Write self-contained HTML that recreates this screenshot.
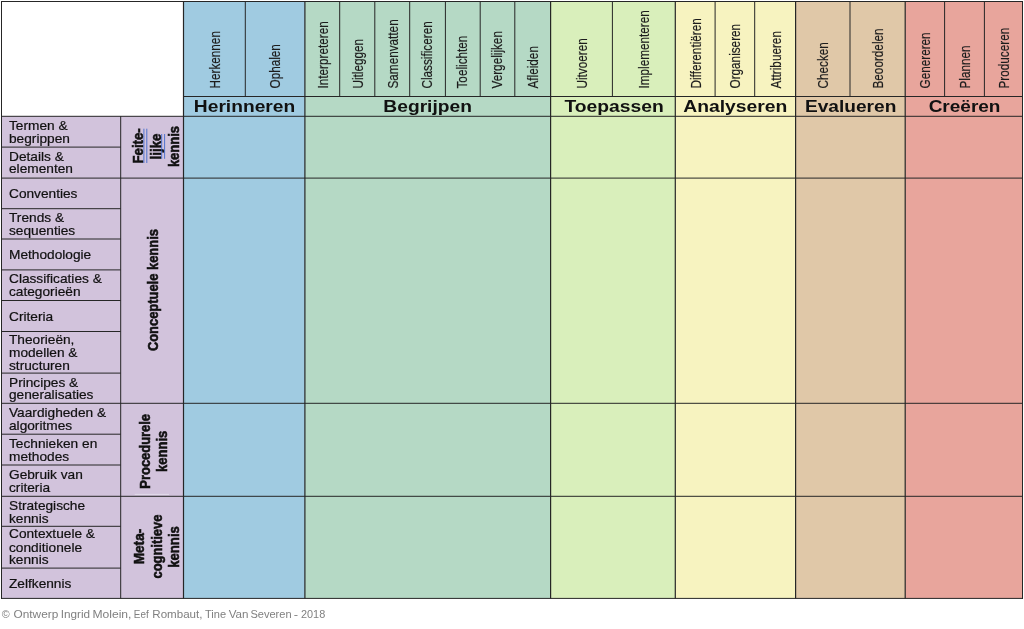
<!DOCTYPE html>
<html lang="nl"><head><meta charset="utf-8"><title>Taxonomie van Bloom - kennisdimensies</title>
<style>html,body{margin:0;padding:0;background:#fff}body{width:1024px;height:629px;overflow:hidden}svg{display:block}text{font-family:"Liberation Sans",Arial,sans-serif;fill:#111}.b{font-weight:bold}.g{font-weight:bold;stroke:#111;stroke-width:.55px}.r{stroke:#111;stroke-width:.2px}.s{fill:#1c1c1c;stroke:#1c1c1c;stroke-width:.2px}.f{fill:#808080}</style></head><body>
<svg width="1024" height="629" viewBox="0 0 1024 629">
<rect width="1024" height="629" fill="#fff"/>
<rect x="1.5" y="116.2" width="182.1" height="482.2" fill="#d2c3dc"/>
<rect x="183.5" y="1.5" width="121.4" height="596.9" fill="#a0cbe1"/>
<rect x="304.9" y="1.5" width="245.8" height="596.9" fill="#b5d9c5"/>
<rect x="550.6" y="1.5" width="124.6" height="596.9" fill="#d9efbb"/>
<rect x="675.3" y="1.5" width="120.3" height="596.9" fill="#f7f3c0"/>
<rect x="795.6" y="1.5" width="109.6" height="596.9" fill="#e0c8a8"/>
<rect x="905.2" y="1.5" width="117.3" height="596.9" fill="#e8a59c"/>
<line x1="1.0" y1="1.5" x2="1023.0" y2="1.5" stroke="#262626" stroke-width="1.0"/>
<line x1="1.0" y1="598.4" x2="1023.0" y2="598.4" stroke="#262626" stroke-width="1.0"/>
<line x1="1.5" y1="1.0" x2="1.5" y2="598.9" stroke="#262626" stroke-width="1.0"/>
<line x1="1022.5" y1="1.0" x2="1022.5" y2="598.9" stroke="#262626" stroke-width="1.0"/>
<line x1="183.6" y1="96.5" x2="1022.5" y2="96.5" stroke="#262626" stroke-width="1.0"/>
<line x1="1.5" y1="116.3" x2="1022.5" y2="116.3" stroke="#262626" stroke-width="1.0"/>
<line x1="1.5" y1="178.1" x2="1022.5" y2="178.1" stroke="#262626" stroke-width="1.0"/>
<line x1="1.5" y1="403.3" x2="1022.5" y2="403.3" stroke="#262626" stroke-width="1.0"/>
<line x1="1.5" y1="496.3" x2="1022.5" y2="496.3" stroke="#262626" stroke-width="1.0"/>
<line x1="1.5" y1="147.1" x2="120.7" y2="147.1" stroke="#262626" stroke-width="1.0"/>
<line x1="1.5" y1="208.7" x2="120.7" y2="208.7" stroke="#262626" stroke-width="1.0"/>
<line x1="1.5" y1="239.0" x2="120.7" y2="239.0" stroke="#262626" stroke-width="1.0"/>
<line x1="1.5" y1="269.9" x2="120.7" y2="269.9" stroke="#262626" stroke-width="1.0"/>
<line x1="1.5" y1="300.5" x2="120.7" y2="300.5" stroke="#262626" stroke-width="1.0"/>
<line x1="1.5" y1="331.5" x2="120.7" y2="331.5" stroke="#262626" stroke-width="1.0"/>
<line x1="1.5" y1="373.1" x2="120.7" y2="373.1" stroke="#262626" stroke-width="1.0"/>
<line x1="1.5" y1="434.2" x2="120.7" y2="434.2" stroke="#262626" stroke-width="1.0"/>
<line x1="1.5" y1="465.0" x2="120.7" y2="465.0" stroke="#262626" stroke-width="1.0"/>
<line x1="1.5" y1="526.3" x2="120.7" y2="526.3" stroke="#262626" stroke-width="1.0"/>
<line x1="1.5" y1="568.1" x2="120.7" y2="568.1" stroke="#262626" stroke-width="1.0"/>
<line x1="120.7" y1="116.2" x2="120.7" y2="598.4" stroke="#262626" stroke-width="1.0"/>
<line x1="183.5" y1="1.5" x2="183.5" y2="598.4" stroke="#262626" stroke-width="1.2"/>
<line x1="304.9" y1="1.5" x2="304.9" y2="598.4" stroke="#262626" stroke-width="1.2"/>
<line x1="550.6" y1="1.5" x2="550.6" y2="598.4" stroke="#262626" stroke-width="1.2"/>
<line x1="675.3" y1="1.5" x2="675.3" y2="598.4" stroke="#262626" stroke-width="1.2"/>
<line x1="795.6" y1="1.5" x2="795.6" y2="598.4" stroke="#262626" stroke-width="1.2"/>
<line x1="905.2" y1="1.5" x2="905.2" y2="598.4" stroke="#262626" stroke-width="1.2"/>
<line x1="245.3" y1="1.5" x2="245.3" y2="96.5" stroke="#262626" stroke-width="1.0"/>
<line x1="339.7" y1="1.5" x2="339.7" y2="96.5" stroke="#262626" stroke-width="1.0"/>
<line x1="374.8" y1="1.5" x2="374.8" y2="96.5" stroke="#262626" stroke-width="1.0"/>
<line x1="409.7" y1="1.5" x2="409.7" y2="96.5" stroke="#262626" stroke-width="1.0"/>
<line x1="445.4" y1="1.5" x2="445.4" y2="96.5" stroke="#262626" stroke-width="1.0"/>
<line x1="480.2" y1="1.5" x2="480.2" y2="96.5" stroke="#262626" stroke-width="1.0"/>
<line x1="514.8" y1="1.5" x2="514.8" y2="96.5" stroke="#262626" stroke-width="1.0"/>
<line x1="612.4" y1="1.5" x2="612.4" y2="96.5" stroke="#262626" stroke-width="1.0"/>
<line x1="715.1" y1="1.5" x2="715.1" y2="96.5" stroke="#262626" stroke-width="1.0"/>
<line x1="754.7" y1="1.5" x2="754.7" y2="96.5" stroke="#262626" stroke-width="1.0"/>
<line x1="850.0" y1="1.5" x2="850.0" y2="96.5" stroke="#262626" stroke-width="1.0"/>
<line x1="944.6" y1="1.5" x2="944.6" y2="96.5" stroke="#262626" stroke-width="1.0"/>
<line x1="984.4" y1="1.5" x2="984.4" y2="96.5" stroke="#262626" stroke-width="1.0"/>
<line x1="134.7" y1="494.4" x2="169.0" y2="494.4" stroke="#e4dcea" stroke-width="1"/>
<text class="b" font-size="16.42" transform="translate(193.85 111.70) scale(1.1705 1)">Herinneren</text>
<text class="b" font-size="16.42" transform="translate(383.35 111.70) scale(1.1715 1)">Begrijpen</text>
<text class="b" font-size="16.42" transform="translate(564.41 111.70) scale(1.1746 1)">Toepassen</text>
<text class="b" font-size="16.42" transform="translate(683.22 111.70) scale(1.1775 1)">Analyseren</text>
<text class="b" font-size="16.42" transform="translate(804.96 111.70) scale(1.1654 1)">Evalueren</text>
<text class="b" font-size="16.42" transform="translate(928.64 111.70) scale(1.1581 1)">Creëren</text>
<text class="s" font-size="14.39" transform="translate(219.70 88.5) rotate(-90) scale(0.8165 1)">Herkennen</text>
<text class="s" font-size="14.39" transform="translate(280.00 88.5) rotate(-90) scale(0.8165 1)">Ophalen</text>
<text class="s" font-size="14.39" transform="translate(327.70 88.5) rotate(-90) scale(0.8165 1)">Interpreteren</text>
<text class="s" font-size="14.39" transform="translate(362.90 88.5) rotate(-90) scale(0.8165 1)">Uitleggen</text>
<text class="s" font-size="14.39" transform="translate(397.50 88.5) rotate(-90) scale(0.8165 1)">Samenvatten</text>
<text class="s" font-size="14.39" transform="translate(432.40 88.5) rotate(-90) scale(0.8165 1)">Classificeren</text>
<text class="s" font-size="14.39" transform="translate(467.20 88.5) rotate(-90) scale(0.8165 1)">Toelichten</text>
<text class="s" font-size="14.39" transform="translate(502.20 88.5) rotate(-90) scale(0.8165 1)">Vergelijken</text>
<text class="s" font-size="14.39" transform="translate(537.70 88.5) rotate(-90) scale(0.8165 1)">Afleiden</text>
<text class="s" font-size="14.39" transform="translate(586.70 88.5) rotate(-90) scale(0.8165 1)">Uitvoeren</text>
<text class="s" font-size="14.39" transform="translate(649.30 88.5) rotate(-90) scale(0.8165 1)">Implementeren</text>
<text class="s" font-size="14.39" transform="translate(700.60 88.5) rotate(-90) scale(0.8165 1)">Differentiëren</text>
<text class="s" font-size="14.39" transform="translate(739.90 88.5) rotate(-90) scale(0.8165 1)">Organiseren</text>
<text class="s" font-size="14.39" transform="translate(780.90 88.5) rotate(-90) scale(0.8165 1)">Attribueren</text>
<text class="s" font-size="14.39" transform="translate(827.90 88.5) rotate(-90) scale(0.8165 1)">Checken</text>
<text class="s" font-size="14.39" transform="translate(883.00 88.5) rotate(-90) scale(0.8165 1)">Beoordelen</text>
<text class="s" font-size="14.39" transform="translate(930.20 88.5) rotate(-90) scale(0.8165 1)">Genereren</text>
<text class="s" font-size="14.39" transform="translate(969.70 88.5) rotate(-90) scale(0.8165 1)">Plannen</text>
<text class="s" font-size="14.39" transform="translate(1008.80 88.5) rotate(-90) scale(0.8165 1)">Produceren</text>
<text class="g" font-size="13.95" transform="translate(143.00 163.46) rotate(-90) scale(0.9472 1)">Feite-</text>
<text class="g" font-size="13.95" transform="translate(161.20 159.43) rotate(-90) scale(0.9517 1)">lijke</text>
<text class="g" font-size="13.95" transform="translate(179.00 167.11) rotate(-90) scale(0.9313 1)">kennis</text>
<line x1="143.9" y1="128.7" x2="143.9" y2="163.0" stroke="#2f5fcc" stroke-width="0.8"/>
<line x1="146.8" y1="128.7" x2="146.8" y2="163.0" stroke="#2f5fcc" stroke-width="0.8"/>
<line x1="161.7" y1="134.0" x2="161.7" y2="158.8" stroke="#2f5fcc" stroke-width="0.8"/>
<line x1="164.6" y1="134.0" x2="164.6" y2="158.8" stroke="#2f5fcc" stroke-width="0.8"/>
<text class="g" font-size="13.95" transform="translate(158.00 351.12) rotate(-90) scale(0.9267 1)">Conceptuele kennis</text>
<text class="g" font-size="13.95" transform="translate(150.10 488.64) rotate(-90) scale(0.9266 1)">Procedurele</text>
<text class="g" font-size="13.95" transform="translate(167.00 471.91) rotate(-90) scale(0.9313 1)">kennis</text>
<text class="g" font-size="13.95" transform="translate(143.90 564.29) rotate(-90) scale(0.9765 1)">Meta-</text>
<text class="g" font-size="13.95" transform="translate(161.70 578.52) rotate(-90) scale(0.9262 1)">cognitieve</text>
<text class="g" font-size="13.95" transform="translate(179.30 567.72) rotate(-90) scale(0.9407 1)">kennis</text>
<text class="r" font-size="12.06" transform="translate(9 129.70) scale(1.136 1)">Termen &amp;</text>
<text class="r" font-size="12.06" transform="translate(9 142.70) scale(1.136 1)">begrippen</text>
<text class="r" font-size="12.06" transform="translate(9 160.60) scale(1.136 1)">Details &amp;</text>
<text class="r" font-size="12.06" transform="translate(9 172.90) scale(1.136 1)">elementen</text>
<text class="r" font-size="12.06" transform="translate(9 197.80) scale(1.136 1)">Conventies</text>
<text class="r" font-size="12.06" transform="translate(9 222.40) scale(1.136 1)">Trends &amp;</text>
<text class="r" font-size="12.06" transform="translate(9 235.30) scale(1.136 1)">sequenties</text>
<text class="r" font-size="12.06" transform="translate(9 258.80) scale(1.136 1)">Methodologie</text>
<text class="r" font-size="12.06" transform="translate(9 283.40) scale(1.136 1)">Classificaties &amp;</text>
<text class="r" font-size="12.06" transform="translate(9 296.30) scale(1.136 1)">categorieën</text>
<text class="r" font-size="12.06" transform="translate(9 320.60) scale(1.136 1)">Criteria</text>
<text class="r" font-size="12.06" transform="translate(9 343.60) scale(1.136 1)">Theorieën,</text>
<text class="r" font-size="12.06" transform="translate(9 357.40) scale(1.136 1)">modellen &amp;</text>
<text class="r" font-size="12.06" transform="translate(9 369.80) scale(1.136 1)">structuren</text>
<text class="r" font-size="12.06" transform="translate(9 386.50) scale(1.136 1)">Principes &amp;</text>
<text class="r" font-size="12.06" transform="translate(9 399.20) scale(1.136 1)">generalisaties</text>
<text class="r" font-size="12.06" transform="translate(9 416.70) scale(1.136 1)">Vaardigheden &amp;</text>
<text class="r" font-size="12.06" transform="translate(9 429.80) scale(1.136 1)">algoritmes</text>
<text class="r" font-size="12.06" transform="translate(9 447.60) scale(1.136 1)">Technieken en</text>
<text class="r" font-size="12.06" transform="translate(9 460.60) scale(1.136 1)">methodes</text>
<text class="r" font-size="12.06" transform="translate(9 478.80) scale(1.136 1)">Gebruik van</text>
<text class="r" font-size="12.06" transform="translate(9 491.60) scale(1.136 1)">criteria</text>
<text class="r" font-size="12.06" transform="translate(9 509.80) scale(1.136 1)">Strategische</text>
<text class="r" font-size="12.06" transform="translate(9 522.50) scale(1.136 1)">kennis</text>
<text class="r" font-size="12.06" transform="translate(9 538.20) scale(1.136 1)">Contextuele &amp;</text>
<text class="r" font-size="12.06" transform="translate(9 551.60) scale(1.136 1)">conditionele</text>
<text class="r" font-size="12.06" transform="translate(9 564.20) scale(1.136 1)">kennis</text>
<text class="r" font-size="12.06" transform="translate(9 587.60) scale(1.136 1)">Zelfkennis</text>
<text class="f" font-size="10.47" y="617.8">
<tspan x="1.84" textLength="7.94" lengthAdjust="spacingAndGlyphs">©</tspan> <tspan x="13.57" textLength="44.70" lengthAdjust="spacingAndGlyphs">Ontwerp</tspan> <tspan x="60.74" textLength="29.38" lengthAdjust="spacingAndGlyphs">Ingrid</tspan> <tspan x="92.43" textLength="39.04" lengthAdjust="spacingAndGlyphs">Molein,</tspan> <tspan x="133.81" textLength="14.85" lengthAdjust="spacingAndGlyphs">Eef</tspan> <tspan x="152.27" textLength="50.22" lengthAdjust="spacingAndGlyphs">Rombaut,</tspan> <tspan x="204.98" textLength="21.10" lengthAdjust="spacingAndGlyphs">Tine</tspan> <tspan x="228.74" textLength="19.82" lengthAdjust="spacingAndGlyphs">Van</tspan> <tspan x="250.40" textLength="41.21" lengthAdjust="spacingAndGlyphs">Severen</tspan> <tspan x="293.81" textLength="4.35" lengthAdjust="spacingAndGlyphs">-</tspan> <tspan x="300.95" textLength="24.28" lengthAdjust="spacingAndGlyphs">2018</tspan>
</text>
</svg></body></html>
